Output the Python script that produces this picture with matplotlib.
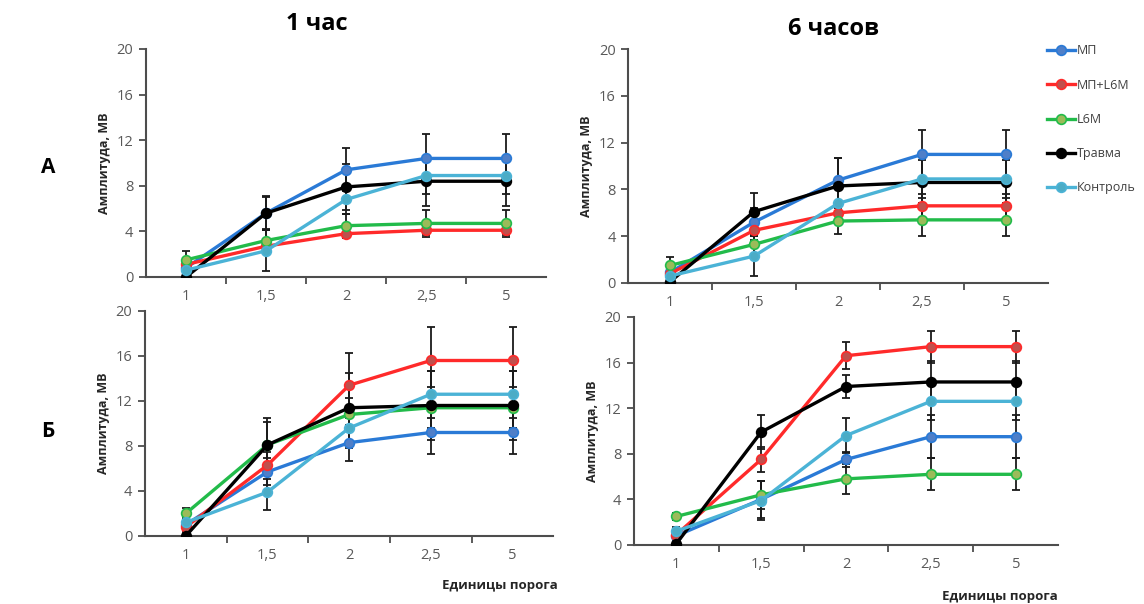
import matplotlib.pyplot as plt
from matplotlib.lines import Line2D
import numpy as np

plt.rcParams['font.family'] = ['Open Sans', 'DejaVu Sans']

thresholds = ['1', '1,5', '2', '2,5', '5']
series_names = ['МП', 'МП+L6M', 'L6M', 'Травма', 'Контроль']
line_colors = ['#2a7ad6', '#ff2a2a', '#22bb4a', '#000000', '#4bb3d6']
marker_colors = ['#4f7fc8', '#c0504d', '#9bbb59', '#000000', '#4bacc6']

# А, 1 час  (order: МП, МП+L6M, L6M, Травма, Контроль)
a_1h_mean = [
    [0.8, 5.6, 9.4, 10.4, 10.4],
    [1.1, 2.7, 3.8, 4.1, 4.1],
    [1.5, 3.2, 4.5, 4.7, 4.7],
    [0.0, 5.6, 7.9, 8.4, 8.4],
    [0.6, 2.3, 6.8, 8.9, 8.9],
]
a_1h_err = [
    [0.5, 1.4, 1.9, 2.1, 2.1],
    [0.3, 0.5, 0.4, 0.4, 0.4],
    [0.8, 0.9, 1.0, 1.2, 1.2],
    [0.3, 1.5, 2.0, 2.2, 2.2],
    [0.5, 1.8, 1.3, 1.6, 1.6],
]

# А, 6 часов
a_6h_mean = [
    [0.9, 5.2, 8.8, 11.0, 11.0],
    [0.8, 4.5, 6.0, 6.6, 6.6],
    [1.5, 3.3, 5.3, 5.4, 5.4],
    [0.1, 6.1, 8.3, 8.6, 8.6],
    [0.6, 2.3, 6.8, 8.9, 8.9],
]
a_6h_err = [
    [0.5, 1.2, 1.9, 2.1, 2.1],
    [0.4, 0.8, 0.9, 1.0, 1.0],
    [0.7, 0.9, 1.1, 1.4, 1.4],
    [0.3, 1.6, 2.4, 2.2, 2.2],
    [0.4, 1.7, 1.4, 1.6, 1.6],
]

# Б, 1 час
b_1h_mean = [
    [1.0, 5.7, 8.3, 9.2, 9.2],
    [0.8, 6.3, 13.4, 15.6, 15.6],
    [2.0, 8.1, 10.8, 11.4, 11.4],
    [0.0, 8.1, 11.4, 11.6, 11.6],
    [1.2, 3.9, 9.6, 12.6, 12.6],
]
b_1h_err = [
    [0.5, 1.2, 1.6, 1.9, 1.9],
    [0.4, 1.2, 2.9, 3.0, 3.0],
    [0.5, 2.0, 1.5, 1.8, 1.8],
    [0.3, 2.4, 3.1, 3.1, 3.1],
    [0.4, 1.6, 1.8, 2.1, 2.1],
]

# Б, 6 часов
b_6h_mean = [
    [0.8, 4.0, 7.5, 9.5, 9.5],
    [0.9, 7.5, 16.6, 17.4, 17.4],
    [2.5, 4.4, 5.8, 6.2, 6.2],
    [0.1, 9.9, 13.9, 14.3, 14.3],
    [1.2, 3.9, 9.6, 12.6, 12.6],
]
b_6h_err = [
    [0.4, 1.6, 0.7, 1.9, 1.9],
    [0.4, 1.1, 1.2, 1.4, 1.4],
    [0.3, 1.2, 1.3, 1.4, 1.4],
    [0.3, 1.5, 1.0, 1.8, 1.8],
    [0.4, 1.7, 1.5, 1.6, 1.6],
]

AXIS_COLOR = '#4d4d4d'
TICK_COLOR = '#595959'


def draw_panel(ax, means, errs):
    x = np.arange(len(thresholds))
    for vals, err, lc, mc in zip(means, errs, line_colors, marker_colors):
        ax.errorbar(x, vals, yerr=err, fmt='none', ecolor='#1a1a1a',
                    elinewidth=1.3, capsize=3, capthick=1.3, zorder=2)
        ax.plot(x, vals, color=lc, lw=2.4, marker='o', ms=7,
                mfc=mc, mec=lc, mew=1.2, zorder=3)

    ax.set_xlim(-0.5, len(thresholds) - 0.5)
    ax.set_ylim(0, 20)
    ax.set_yticks(range(0, 21, 4))
    ax.set_xticks(x)
    ax.set_xticklabels(thresholds)
    ax.set_xticks(np.arange(0.5, len(thresholds) - 0.5, 1), minor=True)
    ax.tick_params(axis='x', which='major', length=0, pad=9,
                   labelsize=10.5, labelcolor=TICK_COLOR)
    ax.tick_params(axis='x', which='minor', length=5, width=1.3,
                   color=AXIS_COLOR)
    ax.tick_params(axis='y', length=5, width=1.3, color=AXIS_COLOR,
                   labelsize=10.5, labelcolor=TICK_COLOR, pad=4)
    for side in ('top', 'right'):
        ax.spines[side].set_visible(False)
    for side in ('left', 'bottom'):
        ax.spines[side].set_color(AXIS_COLOR)
        ax.spines[side].set_linewidth(1.5)
    ax.set_ylabel('Амплитуда, МВ', fontsize=9, fontweight='bold',
                  color='#262626', labelpad=4)


fig = plt.figure(figsize=(11.44, 6.04), dpi=100)

ax_a1 = fig.add_axes([0.1276, 0.5414, 0.350, 0.3775])
ax_a6 = fig.add_axes([0.5490, 0.5315, 0.367, 0.3870])
ax_b1 = fig.add_axes([0.1267, 0.1126, 0.357, 0.3725])
ax_b6 = fig.add_axes([0.5540, 0.0977, 0.371, 0.3775])

draw_panel(ax_a1, a_1h_mean, a_1h_err)
draw_panel(ax_a6, a_6h_mean, a_6h_err)
draw_panel(ax_b1, b_1h_mean, b_1h_err)
draw_panel(ax_b6, b_6h_mean, b_6h_err)

fig.text(0.277, 0.960, '1 час', fontsize=17, fontweight='bold',
         ha='center', va='center')
fig.text(0.729, 0.952, '6 часов', fontsize=17, fontweight='bold',
         ha='center', va='center')
fig.text(0.042, 0.722, 'А', fontsize=15, fontweight='bold',
         ha='center', va='center')
fig.text(0.042, 0.285, 'Б', fontsize=15, fontweight='bold',
         ha='center', va='center')
fig.text(0.437, 0.030, 'Единицы порога', fontsize=9.5, fontweight='bold',
         color='#262626', ha='center', va='center')
fig.text(0.874, 0.013, 'Единицы порога', fontsize=9.5, fontweight='bold',
         color='#262626', ha='center', va='center')

handles = [Line2D([], [], color=lc, lw=2.4, marker='o', ms=7, mfc=mc,
                  mec=lc, mew=1.2)
           for lc, mc in zip(line_colors, marker_colors)]
fig.legend(handles, series_names, loc='upper left',
           bbox_to_anchor=(0.905, 0.945), frameon=False, fontsize=9,
           handlelength=2.3, handletextpad=0.1, labelspacing=1.7,
           labelcolor='#404040')

fig.savefig('out.png', dpi=100)
